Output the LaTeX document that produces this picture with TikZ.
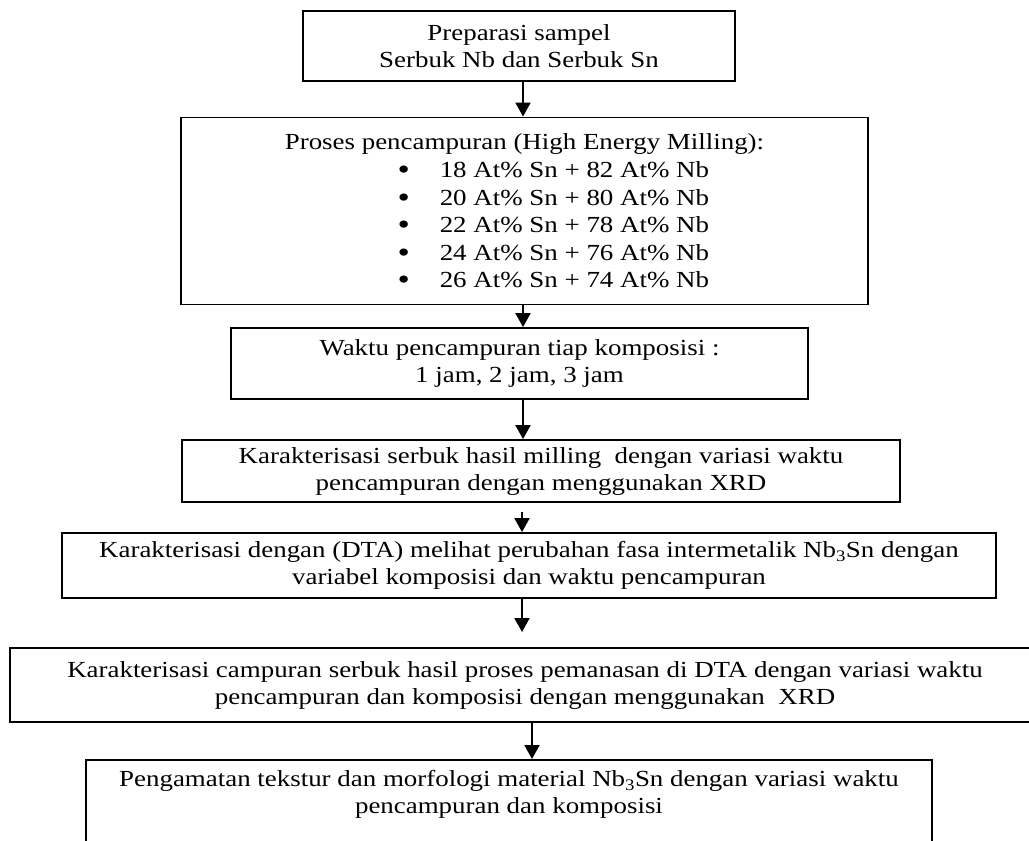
\documentclass[tikz,border=0pt]{standalone}
\usepackage{fontspec}
\setmainfont{Liberation Serif}[FakeStretch=1.17]
\usetikzlibrary{arrows.meta}
\newcommand{\mixrow}[1]{\makebox[600pt][l]{\hspace{173pt}\smash{\raisebox{-2pt}{\fontsize{30}{27}\selectfont\textbullet}}\hspace{30pt}#1}}
\begin{document}
\begin{tikzpicture}[x=1pt,y=-1pt,
    stage/.style={draw,line width=1.9pt,align=center,inner sep=0pt,
        font=\fontsize{23}{27}\selectfont},
    flow/.style={line width=2pt,-{Triangle[width=15pt,length=14pt]}}]
    \useasboundingbox (0,0) rectangle (1029,841);
    \node[stage,minimum width=432,minimum height=70] (prep) at (519,46)
        {Preparasi sampel\\Serbuk Nb dan Serbuk Sn};
    \node[stage,minimum width=687,minimum height=187,
        font=\fontsize{23}{27.6}\selectfont] (mix) at (524.5,211)
        {Proses pencampuran (High Energy Milling):\\
         \mixrow{18 At\% Sn + 82 At\% Nb}\\
         \mixrow{20 At\% Sn + 80 At\% Nb}\\
         \mixrow{22 At\% Sn + 78 At\% Nb}\\
         \mixrow{24 At\% Sn + 76 At\% Nb}\\
         \mixrow{26 At\% Sn + 74 At\% Nb}};
    \node[stage,minimum width=577,minimum height=71] (waktu) at (519.5,363.5)
        {Waktu pencampuran tiap komposisi :\\1 jam, 2 jam, 3 jam};
    \node[stage,minimum width=718,minimum height=62] (xrdmill) at (541,471)
        {Karakterisasi serbuk hasil milling \ dengan variasi waktu\\
         pencampuran dengan menggunakan XRD};
    \node[stage,minimum width=934,minimum height=65] (dta) at (529,565.5)
        {Karakterisasi dengan (DTA) melihat perubahan fasa intermetalik Nb\textsubscript{3}Sn dengan\\
         variabel komposisi dan waktu pencampuran};
    \node[stage,minimum width=1030,minimum height=74] (xrdheat) at (525,685)
        {Karakterisasi campuran serbuk hasil proses pemanasan di DTA dengan variasi waktu\\
         pencampuran dan komposisi dengan menggunakan \ XRD};
    \node[stage,minimum width=846,anchor=north,inner ysep=10pt,
        text height=44pt,text depth=60pt] (morf) at (509,759)
        {Pengamatan tekstur dan morfologi material Nb\textsubscript{3}Sn dengan variasi waktu\\
         pencampuran dan komposisi};
    \coordinate (gapa) at (522,512);
    \coordinate (gapb) at (522,632);
%
    \draw[flow] (prep.south -| 523,0) -- (mix.north -| 523,0);
    \draw[flow] (mix.south -| 523,0) -- (waktu.north -| 523,0);
    \draw[flow] (waktu.south -| 523,0) -- (xrdmill.north -| 523,0);
    \draw[flow] (gapa) -- (dta.north -| gapa);
    \draw[flow] (dta.south -| gapb) -- (gapb);
    \draw[flow] (xrdheat.south -| 532,0) -- (morf.north -| 532,0);
\end{tikzpicture}
\end{document}
